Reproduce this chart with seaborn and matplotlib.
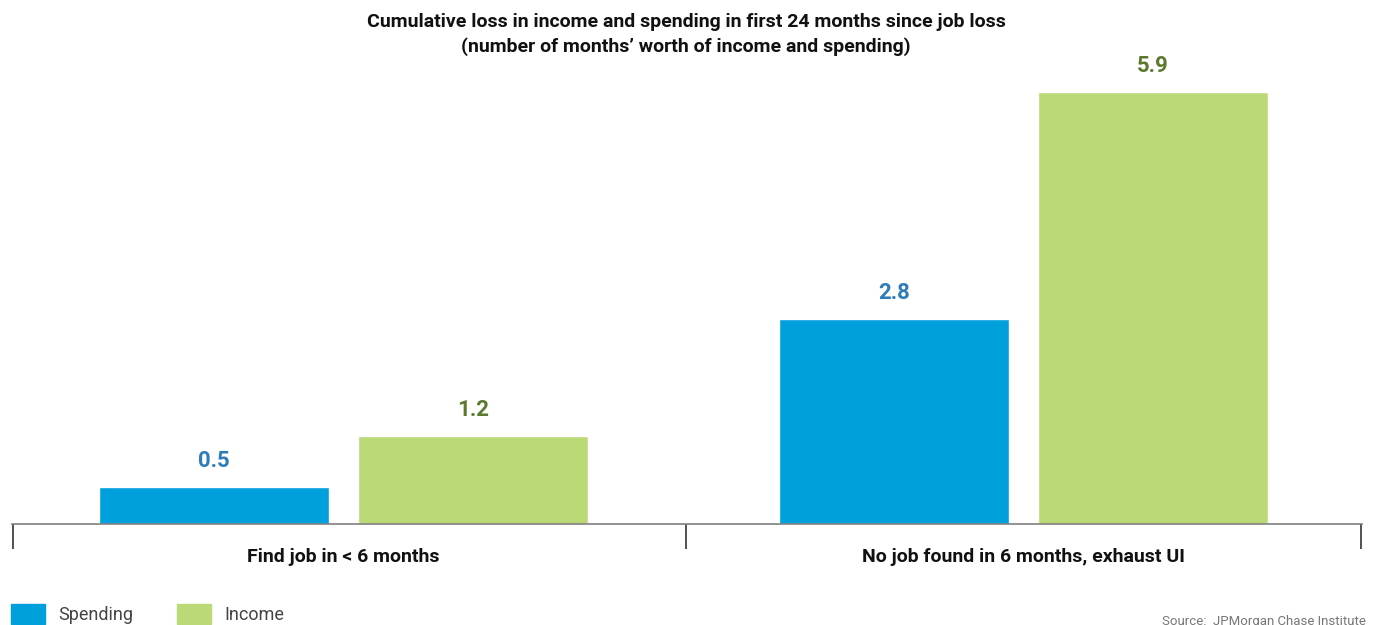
import seaborn as sns
import matplotlib.pyplot as plt
import matplotlib.patches as mpatches
import pandas as pd

# Daten
groups = ["Find job in < 6 months", "No job found in 6 months, exhaust UI"]
series = ["Spending", "Income"]
spending = [0.5, 2.8]
income = [1.2, 5.9]

bar_colors = {"Spending": "#00A0DC", "Income": "#BCD977"}
label_colors = {"Spending": "#2E7DB8", "Income": "#5B7A2E"}

df = pd.DataFrame({
    "group": groups * 2,
    "series": ["Spending"] * 2 + ["Income"] * 2,
    "value": spending + income,
})

sns.set_style("white")
plt.rcParams["font.family"] = ["Roboto", "DejaVu Sans"]

fig = plt.figure(figsize=(13.79, 6.25), dpi=100)
ax = fig.add_axes([12 / 1379, 101 / 625, 1350 / 1379, 6.5 * 73.2 / 625])

sns.barplot(data=df, x="group", y="value", hue="series", order=groups,
            hue_order=series, palette=bar_colors, width=0.762, gap=0.113,
            legend=False, ax=ax, saturation=1)

for cont, s in zip(ax.containers, series):
    ax.bar_label(cont, labels=[f"{v:.1f}" for v in cont.datavalues],
                 padding=11, fontsize=16, fontweight="bold",
                 color=label_colors[s])

ax.set_xlim(-0.4875, 1.498)
ax.set_ylim(0, 6.5)
ax.set_yticks([])
ax.set_xlabel("")
ax.set_ylabel("")
for sp in ["top", "right", "left"]:
    ax.spines[sp].set_visible(False)
ax.spines["bottom"].set_color("#808080")
ax.spines["bottom"].set_linewidth(1.2)

# Trennstriche unter der Achse
ax.set_xticks([0, 1])
ax.set_xticklabels(groups, fontsize=14, fontweight="bold", color="#111111")
ax.set_xticks([-0.4865, 0.504, 1.497], minor=True)
ax.tick_params(axis="x", which="minor", bottom=True, length=18, width=1.2,
               color="#333333", direction="out")
ax.tick_params(axis="x", which="major", bottom=False, length=0, pad=17)

fig.text(686 / 1379, 1 - 22 / 625,
         "Cumulative loss in income and spending in first 24 months since job loss",
         ha="center", va="center", fontsize=14, fontweight="bold", color="#111111")
fig.text(686 / 1379, 1 - 47 / 625,
         "(number of months\u2019 worth of income and spending)",
         ha="center", va="center", fontsize=14, fontweight="bold", color="#111111")

# Legende unten
handles = [mpatches.Patch(color=bar_colors[s], label=s) for s in series]
fig.legend(handles=handles, loc="lower left", bbox_to_anchor=(-0.004, -0.025),
           ncol=2, frameon=False, fontsize=13, handlelength=1.9,
           handleheight=1.4, columnspacing=2.4, handletextpad=0.75,
           labelcolor="#444444")

fig.text(1366 / 1379, 1 - 621 / 625, "Source:  JPMorgan Chase Institute",
         ha="right", va="center", fontsize=9.5, color="#777777")

fig.savefig("out.png", dpi=100)
